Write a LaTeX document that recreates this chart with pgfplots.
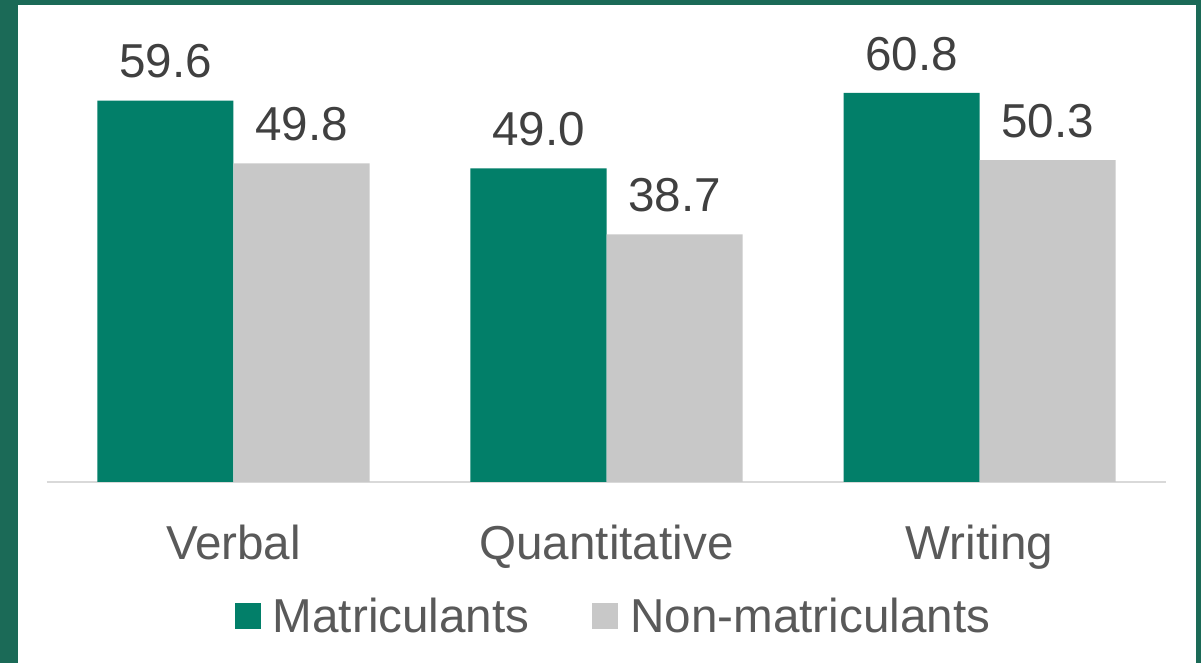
\documentclass[border=0pt]{standalone}
\usepackage{pgfplots}
\pgfplotsset{compat=1.18}
\usepackage{fontspec}
\setmainfont{Liberation Sans}
\definecolor{bordergreen}{HTML}{1B6A57}
\definecolor{bargreen}{HTML}{027F69}
\definecolor{bargray}{HTML}{C8C8C8}
\definecolor{axisgray}{HTML}{D9D9D9}
\definecolor{valtext}{HTML}{404040}
\definecolor{labtext}{HTML}{595959}
\newcommand{\bigfont}{\fontsize{23.8}{28}\selectfont}
\begin{document}
\begin{tikzpicture}
\useasboundingbox (0pt,0pt) rectangle (600.5pt,331.5pt);
\fill[bordergreen] (0pt,0pt) rectangle (600.5pt,331.5pt);
\fill[white] (9pt,0pt) rectangle (598pt,329pt);
\begin{axis}[
  at={(23.5pt,90.5pt)}, anchor=south west,
  scale only axis, width=559.5pt, height=224pt,
  xmin=-0.5, xmax=2.5, ymin=0, ymax=70,
  ybar=0pt, bar width=68pt,
  axis x line=bottom, axis y line=none,
  x axis line style={-, draw=axisgray, line width=1pt},
  xtick={0,1,2}, xticklabels={Verbal,Quantitative,Writing},
  xtick style={draw=none}, ytick=\empty,
  xticklabel style={font=\bigfont, text=labtext, inner sep=0pt, anchor=north, yshift=-19pt},
  /pgf/number format/assume math mode=true,
  nodes near coords={\pgfmathprintnumber[fixed,fixed zerofill,precision=1]{\pgfplotspointmeta}},
  nodes near coords style={font=\bigfont, text=valtext, inner sep=0pt, anchor=south, yshift=11pt},
  legend columns=2,
  legend image code/.code={\fill[#1] (0pt,-6.5pt) rectangle (13pt,6.5pt);},
  legend style={at={(0.5054,-0.3002)}, anchor=center, draw=none, fill=none,
    font=\bigfont, text=labtext, nodes={inner sep=0pt},
    /tikz/every odd column/.append style={column sep=6pt},
    /tikz/every even column/.append style={column sep=31.5pt}},
]
\addplot[fill=bargreen, draw=none] coordinates {(0,59.6) (1,49.0) (2,60.8)};
\addplot[fill=bargray, draw=none] coordinates {(0,49.8) (1,38.7) (2,50.3)};
\legend{Matriculants, Non-matriculants}
\end{axis}
\end{tikzpicture}
\end{document}
